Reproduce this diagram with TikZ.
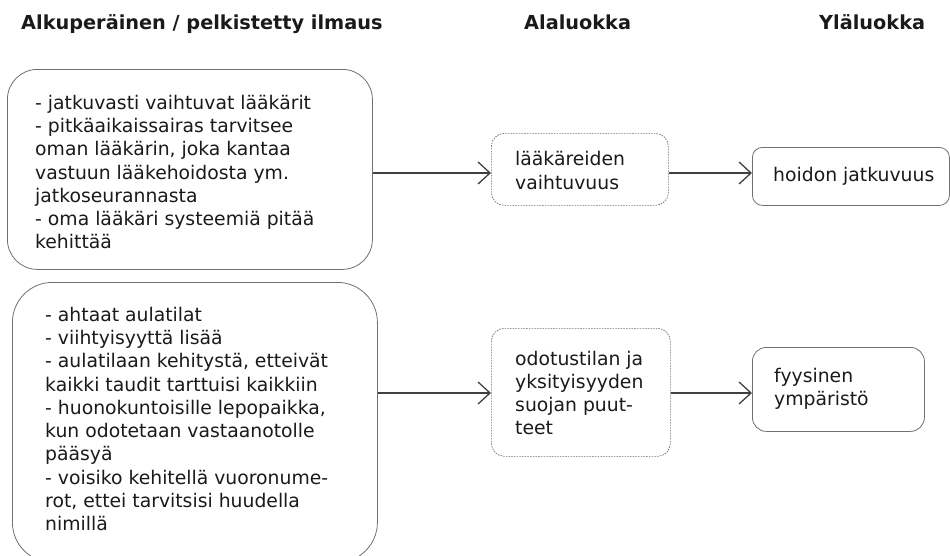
\documentclass[tikz,border=0pt]{standalone}
\usepackage{fontspec}
\setmainfont{DejaVu Sans}
\usetikzlibrary{arrows.meta}
\definecolor{boxline}{HTML}{707070}
\definecolor{arrowline}{HTML}{404040}
\definecolor{txt}{HTML}{1A1A1A}
\tikzset{
  every node/.style={font=\fontsize{18.8}{23.3}\selectfont, text=txt},
  head/.style={font=\bfseries\fontsize{19.3}{23.3}\selectfont, anchor=base west, inner sep=0pt},
  solidbox/.style={draw=boxline, line width=0.8pt, anchor=north west, inner sep=0pt},
  dotbox/.style={draw=boxline, line width=0.7pt, dash pattern=on 1.6pt off 1.1pt,
    rounded corners=13pt, anchor=north west, inner sep=0pt},
  lines/.style={align=left, anchor=west, inner sep=0pt},
  conn/.style={draw=arrowline, line width=1.3pt,
    -{Straight Barb[length=12pt, width=22pt, line width=1.3pt]}},
}
\begin{document}
\begin{tikzpicture}[x=1pt, y=-1pt]
\useasboundingbox (0,0) rectangle (950,555);

% column headings
\node[head] (h1) at (21,29) {Alkuperäinen / pelkistetty ilmaus};
\node[head] (h2) at (524,29) {Alaluokka};
\node[head] (h3) at (819,29) {Yläluokka};

% frames
\node[solidbox, rounded corners=30pt, minimum width=365pt, minimum height=200pt] (b1) at (7,69) {};
\node[solidbox, rounded corners=40pt, minimum width=365pt, minimum height=280pt] (b2) at (12,282) {};
\node[dotbox, minimum width=177pt, minimum height=72pt] (d1) at (491,133) {};
\node[dotbox, minimum width=179pt, minimum height=128pt] (d2) at (491,328) {};
\node[solidbox, rounded corners=10pt, minimum width=197pt, minimum height=58pt] (u1) at (752,147) {};
\node[solidbox, rounded corners=14pt, minimum width=172pt, minimum height=84pt] (u2) at (752,347) {};

% texts inside the frames
\node[lines] (t1) at (35,172) {- jatkuvasti vaihtuvat lääkärit\\
  - pitkäaikaissairas tarvitsee\\
  oman lääkärin, joka kantaa\\
  vastuun lääkehoidosta ym.\\
  jatkoseurannasta\\
  - oma lääkäri systeemiä pitää\\
  kehittää};
\node[lines] (t2) at (45,419) {- ahtaat aulatilat\\
  - viihtyisyyttä lisää\\
  - aulatilaan kehitystä, etteivät\\
  kaikki taudit tarttuisi kaikkiin\\
  - huonokuntoisille lepopaikka,\\
  kun odotetaan vastaanotolle\\
  pääsyä\\
  - voisiko kehitellä vuoronume-\\
  rot, ettei tarvitsisi huudella\\
  nimillä};
\node[lines] (t3) at (515,170.5) {lääkäreiden\\vaihtuvuus};
\node[lines] (t4) at (515,393) {odotustilan ja\\yksityisyyden\\suojan puut-\\teet};
\node[lines] (t5) at (773,176) {hoidon jatkuvuus};
\node[lines] (t6) at (774,388.5) {fyysinen\\ympäristö};

% connectors
\coordinate (r1) at (0,173);
\coordinate (r2) at (0,393);
\draw[conn] (b1.east |- r1) -- (d1.west |- r1);
\draw[conn] (d1.east |- r1) -- (u1.west |- r1);
\draw[conn] (b2.east |- r2) -- (d2.west |- r2);
\draw[conn] (d2.east |- r2) -- (u2.west |- r2);
\end{tikzpicture}
\end{document}
